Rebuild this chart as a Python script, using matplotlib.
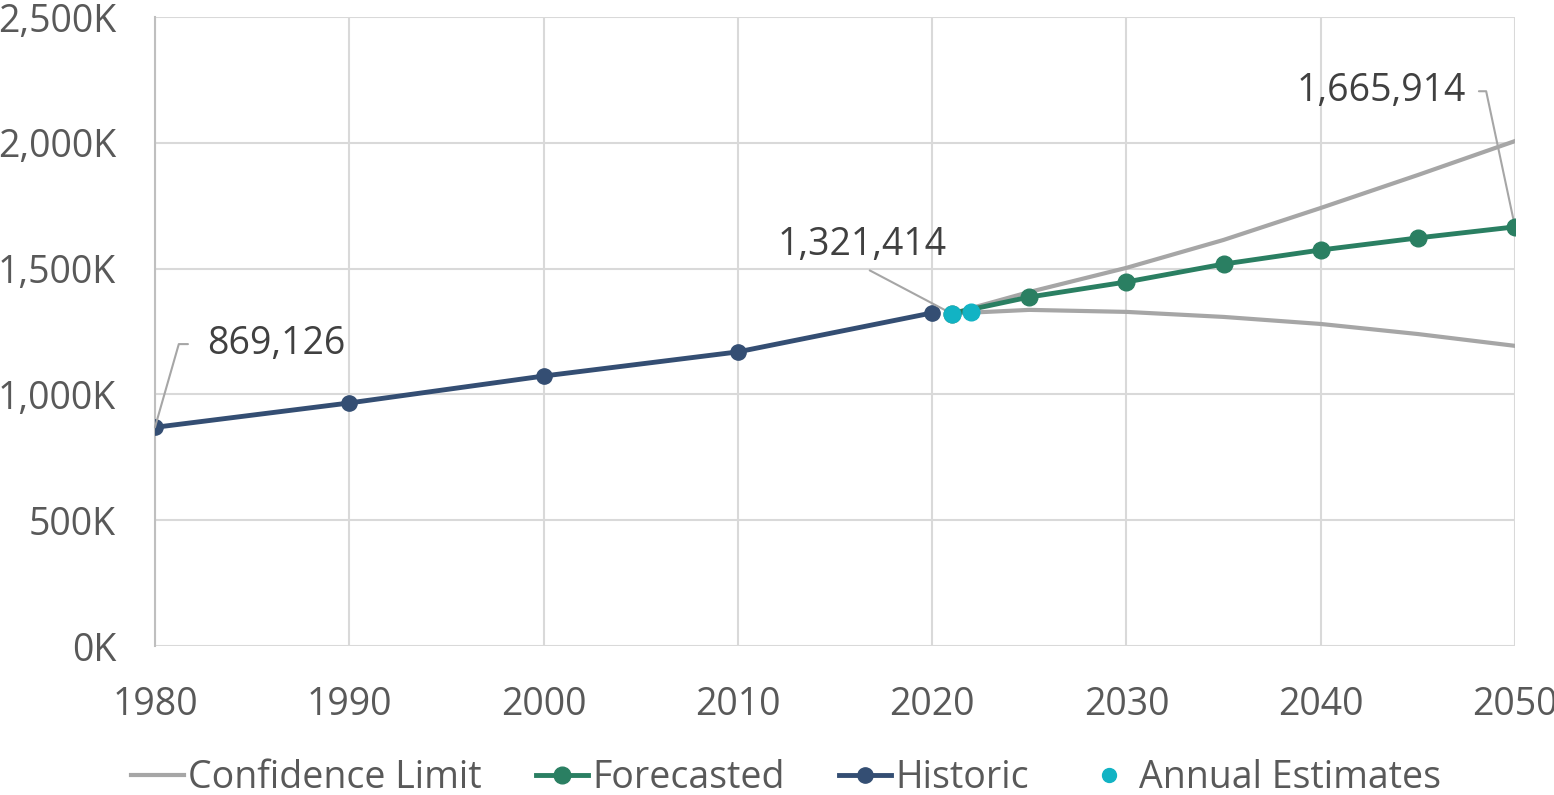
import matplotlib.pyplot as plt
from matplotlib.ticker import FuncFormatter

# data
hist_years = [1980, 1990, 2000, 2010, 2020]
hist_pop = [869126, 966000, 1073000, 1169000, 1324000]

fc_years = [2021, 2025, 2030, 2035, 2040, 2045, 2050]
fc_pop = [1321414, 1387000, 1447000, 1518000, 1574000, 1622000, 1665914]

upper_pop = [1321414, 1407000, 1503000, 1614000, 1741000, 1872000, 2007000]
lower_pop = [1321414, 1336000, 1328000, 1308000, 1280000, 1240000, 1193000]

est_years = [2021, 2022]
est_pop = [1321414, 1326000]

plt.rcParams['font.family'] = ['Open Sans', 'DejaVu Sans']

fig = plt.figure(figsize=(15.54, 7.95), dpi=100)
ax = fig.add_axes([0.0997, 0.1874, 0.8752, 0.7912])

gray = '#a6a6a6'
green = '#2a7f62'
navy = '#344e73'
cyan = '#12b3c4'

ax.plot(fc_years, upper_pop, color=gray, linewidth=3, zorder=2)
ax.plot(fc_years, lower_pop, color=gray, linewidth=3, zorder=2)
ax.plot(hist_years, hist_pop, color=navy, linewidth=3.5, marker='o', markersize=11, zorder=3)
ax.plot(fc_years, fc_pop, color=green, linewidth=3.5, marker='o', markersize=12, zorder=4)
ax.plot(est_years, est_pop, color=cyan, linestyle='none', marker='o', markersize=12, zorder=5)

ax.set_xlim(1980, 2050)
ax.set_ylim(0, 2500000)
ax.set_xticks([1980, 1990, 2000, 2010, 2020, 2030, 2040, 2050])
ax.set_yticks([0, 500000, 1000000, 1500000, 2000000, 2500000])
ax.yaxis.set_major_formatter(FuncFormatter(lambda v, p: f'{v/1000:,.0f}K'))
ax.grid(True, color='#d9d9d9', linewidth=1.5)
ax.set_axisbelow(True)
for s in ['top', 'right', 'bottom']:
    ax.spines[s].set_visible(False)
ax.spines['left'].set_color('#bfbfbf')
ax.spines['left'].set_linewidth(1.5)
ax.tick_params(length=0, labelsize=27, colors='#595959')
ax.tick_params(axis='y', pad=28)
ax.tick_params(axis='x', pad=29)

# data labels with leader lines
lab_kw = dict(fontsize=27, color='#404040', va='center')
ax.annotate('869,126', xy=(1980, hist_pop[0]), xytext=(1982.7, 1200000), ha='left',
            arrowprops=dict(arrowstyle='-', color=gray, lw=1.5, shrinkA=12, shrinkB=0,
                            connectionstyle='angle,angleA=180,angleB=74,rad=0'), **lab_kw)
ax.annotate('1,321,414', xy=(2021, fc_pop[0]), xytext=(2016.4, 1595000), ha='center',
            arrowprops=dict(arrowstyle='-', color=gray, lw=1.5, shrinkA=6, shrinkB=0,
                            relpos=(0.47, 0.0)), **lab_kw)
ax.annotate('1,665,914', xy=(2050, fc_pop[-1]), xytext=(2047.5, 2205000), ha='right',
            arrowprops=dict(arrowstyle='-', color=gray, lw=1.5, shrinkA=7, shrinkB=0,
                            relpos=(1.0, 0.5),
                            connectionstyle='angle,angleA=0,angleB=102,rad=0'), **lab_kw)

handles = [
    plt.Line2D([], [], color=gray, linewidth=3),
    plt.Line2D([], [], color=green, linewidth=3.5, marker='o', markersize=12),
    plt.Line2D([], [], color=navy, linewidth=3.5, marker='o', markersize=11),
    plt.Line2D([], [], color=cyan, linestyle='none', marker='o', markersize=10),
]
fig.legend(handles, ['Confidence Limit', 'Forecasted', 'Historic', 'Annual Estimates'],
           loc='lower center', bbox_to_anchor=(0.506, -0.045), ncol=4, frameon=False,
           fontsize=27, labelcolor='#595959', handlelength=1.4, handletextpad=0.1,
           columnspacing=1.45)

fig.savefig('out.png', dpi=100)
